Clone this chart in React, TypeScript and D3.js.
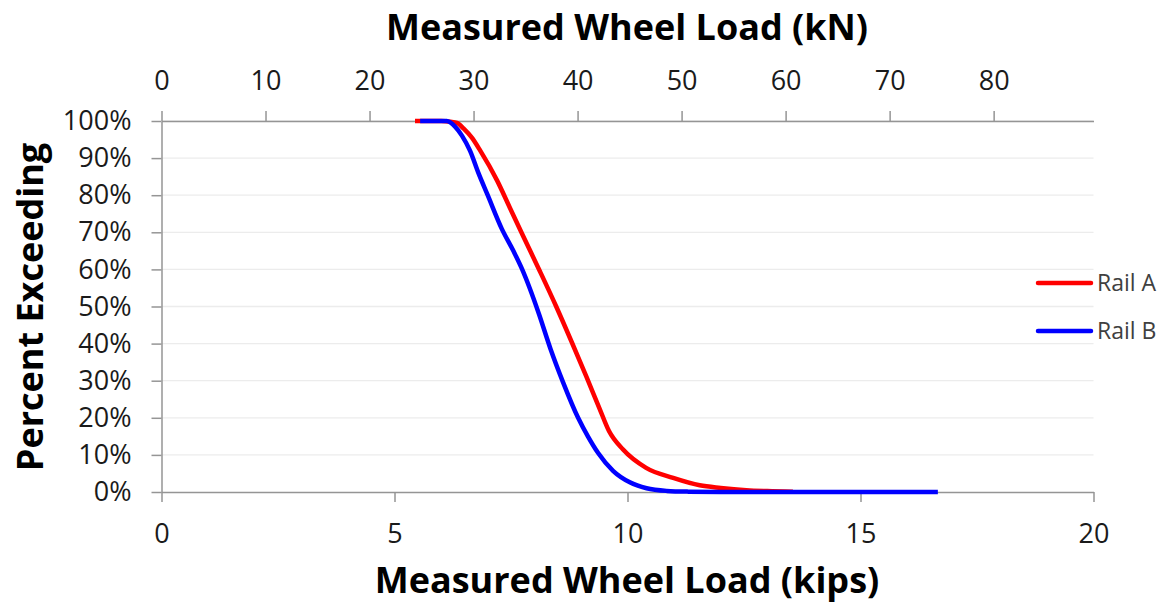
import React, { useEffect, useRef } from 'react';
import * as d3 from 'd3';

// exceedance curves (kips, percent exceeding)
const railAKips = [5.44, 6.0, 6.2, 6.34, 6.48, 6.66, 6.84, 7.2, 7.48, 7.76, 8.12, 8.47, 8.8, 9.12, 9.4, 9.6, 9.9, 10.4, 10.98, 11.55, 12.0, 12.55, 13.0, 13.55];
const railAPct = [100, 100, 99.8, 99.5, 98, 95.5, 92, 84, 76.5, 69, 59.5, 50, 40.5, 31, 22.5, 16.5, 11.5, 6.5, 3.8, 1.8, 1.1, 0.5, 0.25, 0.1];

const railBKips = [5.55, 6.12, 6.3, 6.45, 6.62, 6.8, 7.0, 7.3, 7.55, 7.74, 7.9, 8.1, 8.35, 8.62, 8.94, 9.15, 9.37, 9.69, 10.05, 10.41, 10.84, 11.3, 12.0, 14.0, 16.66];
const railBPct = [100, 100, 98.5, 96, 92, 86, 80, 71, 65, 60, 55, 48, 38.5, 29.5, 20, 15, 10.5, 5.7, 2.6, 1.0, 0.3, 0.1, 0.02, 0, 0];

const seriesNames = ['Rail A', 'Rail B'];
const seriesColors = ['#ff0000', '#0000ff'];

const kipsTicks = [0, 5, 10, 15, 20];
const kNTicks = [0, 10, 20, 30, 40, 50, 60, 70, 80];
const pctTicks = [0, 10, 20, 30, 40, 50, 60, 70, 80, 90, 100];

const W = 1161;
const H = 607;
const FONT = '"Open Sans", sans-serif';

const App: React.FC = () => {
  const svgRef = useRef<SVGSVGElement | null>(null);

  useEffect(() => {
    if (!svgRef.current) return;
    const svg = d3.select(svgRef.current);
    svg.selectAll('*').remove();

    const left = 161.5, right = 1093.5, top = 121, bottom = 492;

    const x = d3.scaleLinear().domain([0, 20]).range([left, right]);
    const xKN = d3.scaleLinear().domain([0, 89.6]).range([left, right]);
    const y = d3.scaleLinear().domain([0, 100]).range([bottom, top]);

    // gridlines
    svg.append('g')
      .selectAll('line')
      .data(pctTicks.filter(d => d > 0))
      .enter().append('line')
      .attr('x1', left).attr('x2', right)
      .attr('y1', d => y(d)).attr('y2', d => y(d))
      .style('stroke', '#ececec')
      .style('stroke-width', 1.3);

    const styleAxis = (g: d3.Selection<SVGGElement, unknown, null, undefined>) => {
      g.selectAll('path, line').style('stroke', '#959595').style('stroke-width', 1.5);
      g.selectAll('text').style('font-family', FONT).style('font-size', '27px').style('fill', '#1a1a1a');
    };

    svg.append('g')
      .attr('transform', `translate(0,${bottom})`)
      .call(d3.axisBottom(x).tickValues(kipsTicks).tickSize(10).tickSizeOuter(0).tickPadding(22).tickFormat(d3.format('d')))
      .call(styleAxis);

    svg.append('g')
      .attr('transform', `translate(0,${top})`)
      .call(d3.axisTop(xKN).tickValues(kNTicks).tickSize(10).tickSizeOuter(0).tickPadding(21).tickFormat(d3.format('d')))
      .call(styleAxis);

    svg.append('g')
      .attr('transform', `translate(${left},0)`)
      .call(d3.axisLeft(y).tickValues(pctTicks).tickSize(10).tickSizeOuter(0).tickPadding(20).tickFormat(d => `${d}%`))
      .call(styleAxis);

    // curves
    const line = d3.line<[number, number]>()
      .x(d => x(d[0]))
      .y(d => y(d[1]))
      .curve(d3.curveMonotoneX);

    const series: [number, number][][] = [
      railAKips.map((k, i) => [k, railAPct[i]]),
      railBKips.map((k, i) => [k, railBPct[i]]),
    ];

    series.forEach((s, i) => {
      svg.append('path')
        .datum(s)
        .attr('d', line)
        .style('fill', 'none')
        .style('stroke', seriesColors[i])
        .style('stroke-width', 4.5)
        .style('stroke-linejoin', 'round');
    });

    // legend
    const legY = [283, 331];
    seriesNames.forEach((name, i) => {
      svg.append('line')
        .attr('x1', 1038).attr('x2', 1091)
        .attr('y1', legY[i]).attr('y2', legY[i])
        .style('stroke', seriesColors[i])
        .style('stroke-width', 4.5)
        .style('stroke-linecap', 'round');
      svg.append('text')
        .attr('x', 1097).attr('y', legY[i])
        .attr('dy', '0.35em')
        .style('font-family', FONT)
        .style('font-size', '23px')
        .style('fill', '#404040')
        .text(name);
    });

    // titles
    const title = (tx: string, px: number, py: number, rot = 0) =>
      svg.append('text')
        .attr('transform', `translate(${px},${py}) rotate(${rot})`)
        .attr('text-anchor', 'middle')
        .style('font-family', FONT)
        .style('font-weight', 'bold')
        .style('font-size', '36px')
        .style('fill', '#000')
        .text(tx);

    title('Measured Wheel Load (kN)', 627, 40);
    title('Measured Wheel Load (kips)', 627, 593);
    title('Percent Exceeding', 43, 307, -90);
  }, []);

  return (
    <svg ref={svgRef} width={W} height={H}
      style={{ position: 'absolute', left: 0, top: 0, background: '#fff' }} />
  );
};

export default App;
